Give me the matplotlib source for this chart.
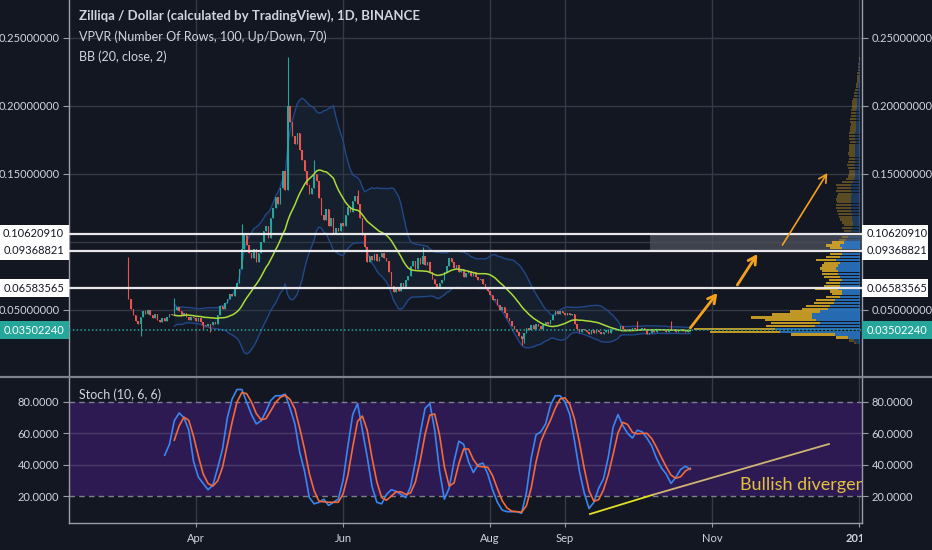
import numpy as np
import pandas as pd
import matplotlib
matplotlib.use('Agg')
import matplotlib.pyplot as plt
from matplotlib.patches import Rectangle
from matplotlib.lines import Line2D
from matplotlib.transforms import Bbox

plt.rcParams['font.family'] = ['Lato', 'DejaVu Sans']

# ------------------------------------------------------------------ data
# day index: 0 = 1 Jan 2018
first_day = 62
first_open = 0.078
closes = [
    0.058, 0.051, 0.046, 0.042, 0.040, 0.045, 0.049, 0.047, 0.050, 0.046,
    0.044, 0.047, 0.043, 0.041, 0.044, 0.042, 0.045, 0.047, 0.046, 0.050,
    0.052, 0.049, 0.046, 0.048, 0.045, 0.043, 0.045, 0.044, 0.042, 0.044,
    0.041, 0.039, 0.038, 0.040, 0.039, 0.041, 0.040, 0.046, 0.053, 0.051,
    0.055, 0.058, 0.062, 0.060, 0.066, 0.070, 0.080, 0.095, 0.105, 0.098,
    0.092, 0.088, 0.095, 0.085, 0.092, 0.100, 0.108, 0.112, 0.103, 0.118,
    0.125, 0.133, 0.128, 0.140, 0.152, 0.138, 0.200, 0.188, 0.178, 0.172,
    0.180, 0.168, 0.160, 0.152, 0.142, 0.135, 0.140, 0.150, 0.145, 0.132,
    0.120, 0.116, 0.124, 0.112, 0.118, 0.106, 0.110, 0.108, 0.114, 0.112,
    0.120, 0.126, 0.122, 0.130, 0.134, 0.128, 0.118, 0.105, 0.096, 0.085,
    0.090, 0.087, 0.091, 0.086, 0.089, 0.092, 0.088, 0.086, 0.078, 0.068,
    0.063, 0.067, 0.064, 0.070, 0.066, 0.072, 0.075, 0.082, 0.086, 0.080,
    0.088, 0.084, 0.090, 0.083, 0.085, 0.078, 0.073, 0.069, 0.066, 0.070,
    0.072, 0.078, 0.082, 0.088, 0.085, 0.081, 0.083, 0.078, 0.080, 0.074,
    0.077, 0.079, 0.075, 0.078, 0.074, 0.072, 0.073, 0.069, 0.066, 0.064,
    0.061, 0.057, 0.058, 0.054, 0.050, 0.052, 0.048, 0.044, 0.042, 0.038,
    0.036, 0.034, 0.031, 0.029, 0.033, 0.037, 0.035, 0.039, 0.036, 0.040,
    0.038, 0.036, 0.039, 0.041, 0.040, 0.043, 0.046, 0.049, 0.047, 0.049,
    0.048, 0.046, 0.048, 0.046, 0.047, 0.040, 0.036, 0.034, 0.036, 0.035,
    0.034, 0.032, 0.035, 0.033, 0.035, 0.034, 0.032, 0.034, 0.035, 0.033,
    0.036, 0.037, 0.035, 0.036, 0.038, 0.036, 0.035, 0.036, 0.035, 0.037,
    0.036, 0.035, 0.036, 0.037, 0.036, 0.032, 0.033, 0.035, 0.034, 0.036,
    0.035, 0.036, 0.035, 0.034, 0.036, 0.035, 0.036, 0.034, 0.035, 0.036,
    0.035, 0.034, 0.035, 0.035,
]
high_spikes = {0: 0.089, 19: 0.059, 47: 0.113, 66: 0.236, 77: 0.160,
               95: 0.138, 122: 0.096, 211: 0.042, 225: 0.042}
low_spikes = {5: 0.031, 31: 0.036, 34: 0.034, 163: 0.0245, 164: 0.026}

# Stochastic %K (10, 6, 6), sampled every 2 days from day 77
stoch_first_day = 77
stoch_k = [
    46, 53, 68, 73, 70, 62, 42, 32, 28, 24,
    27, 38, 50, 70, 82, 88, 88, 80, 72, 66,
    68, 74, 81, 84, 84, 85, 76, 66, 48, 36,
    19, 15, 16, 18, 14, 16, 18, 30, 52, 72,
    79, 62, 45, 26, 16, 15, 21, 24, 23, 21,
    19, 26, 42, 60, 76, 79, 62, 36, 18, 25,
    42, 55, 53, 42, 35, 40, 41, 34, 24, 16,
    11, 10, 10, 10, 9, 22, 44, 59, 61, 66,
    78, 84, 84, 80, 72, 55, 36, 22, 12, 16,
    25, 31, 45, 64, 72, 65, 60, 57, 62, 61,
    57, 52, 44, 38, 34, 28, 32, 37, 39, 37,
]

# Volume profile (100 rows, bottom -> top): up and total volume
vp_total = [
    6, 11, 24, 69, 150, 166, 94, 89, 95, 109,
    88, 70, 58, 54, 46, 44, 34, 28, 30, 45,
    36, 34, 31, 36, 38, 38, 40, 38, 36, 44,
    34, 30, 42, 30, 34, 28, 21, 18, 11, 16,
    18, 16, 18, 20, 21, 22, 23, 24, 24, 23,
    24, 23, 22, 24, 23, 24, 18, 14, 12, 11,
    11, 12, 13, 12, 11, 11, 12, 11, 11, 11,
    10, 11, 11, 11, 10, 10, 9, 10, 10, 9,
    9, 9, 8, 8, 8, 7, 6, 6, 5, 4,
    4, 3, 3, 3, 3, 2, 2, 2, 1, 1,
]
vp_up = [
    4, 6, 12, 25, 80, 85, 45, 40, 44, 48,
    48, 40, 32, 30, 26, 25, 20, 18, 18, 22,
    20, 20, 18, 20, 22, 22, 24, 22, 20, 24,
    20, 18, 22, 18, 20, 16, 14, 12, 8, 9,
    8, 7, 7, 8, 8, 8, 9, 9, 9, 9,
    9, 9, 8, 9, 9, 9, 7, 6, 5, 5,
    5, 5, 6, 5, 5, 5, 5, 5, 5, 5,
    4, 5, 5, 5, 4, 4, 4, 4, 4, 4,
    4, 4, 3, 3, 3, 3, 3, 3, 2, 2,
    2, 1, 1, 1, 1, 1, 1, 1, 1, 0,
]

levels = [0.10620910, 0.09368821, 0.06583565]
level_labels = ['0.10620910', '0.09368821', '0.06583565']
last_price = 0.03502240
last_label = '0.03502240'
zone_start_day = 278.4
zone_prices = [0.09368821, 0.10620910]

# drawn arrows: (start day, start price, end day, end price)
arrows = [(295.0, 0.0368, 306.2, 0.0625),
          (314.5, 0.0684, 322.8, 0.0912),
          (333.2, 0.0978, 351.8, 0.1507)]
arrow_widths = [2.0, 2.0, 1.2]

div_days = [253.4, 279.5, 352.5]
div_vals = [8.5, 20.8, 53.2]
div_text = 'Bullish divergence'
div_text_pos = (315.6, 27.0)

month_days = [90, 151, 212, 243, 304, 365]
month_labels = ['Apr', 'Jun', 'Aug', 'Sep', 'Nov', '2019']
price_ticks = [0.05, 0.10, 0.15, 0.20, 0.25]
price_tick_labels = ['0.05000000', '', '0.15000000', '0.20000000', '0.25000000']
stoch_ticks = [20, 40, 60, 80]
stoch_tick_labels = ['20.0000', '40.0000', '60.0000', '80.0000']

title_lines = ['Zilliqa / Dollar (calculated by TradingView), 1D, BINANCE',
               'VPVR (Number Of Rows, 100, Up/Down, 70)',
               'BB (20, close, 2)']
stoch_title = 'Stoch (10, 6, 6)'

# ------------------------------------------------------------------ derived
closes = np.array(closes)
n = len(closes)
days = first_day + np.arange(n)
opens = np.concatenate([[first_open], closes[:-1]])
highs = np.maximum(opens, closes).copy()
lows = np.minimum(opens, closes).copy()
for kk, v in high_spikes.items():
    highs[kk] = v
for kk, v in low_spikes.items():
    lows[kk] = v

s = pd.Series(closes)
basis = s.rolling(20).mean()
dev = s.rolling(20).std(ddof=0)
upper = basis + 2 * dev
lower = basis - 2 * dev

k = pd.Series(stoch_k, dtype=float)
d = k.rolling(3).mean()
sdays = stoch_first_day + 2 * np.arange(len(k))

# ------------------------------------------------------------------ style
BG = '#131722'
GRID = '#363a46'
SPINE = '#9a9da6'
TXT = '#d1d4dc'
UP = '#26a69a'
DN = '#ef5350'
W, H = 932, 550
TICK_FS = 8.0

XL = (37.33, 366.2)
YL = (0.10 - (376 - 242) / 1360, 0.10 + 242 / 1360)
SL = (80 - (523 - 402) / 1.567, 80 + (402 - 377) / 1.567)

fig = plt.figure(figsize=(W / 100, H / 100), dpi=100, facecolor=BG)
ax = fig.add_axes([69 / W, 1 - 376 / H, (862 - 69) / W, 376 / H])
ax2 = fig.add_axes([69 / W, 1 - 523 / H, (862 - 69) / W, (523 - 377) / H])

for a in (ax, ax2):
    a.set_facecolor(BG)
    a.set_xlim(*XL)
    for sp in a.spines.values():
        sp.set_color(SPINE)
        sp.set_linewidth(1.0)
    a.spines['top'].set_visible(False)
    a.tick_params(axis='y', which='both', left=True, right=True,
                  labelleft=True, labelright=True, colors=SPINE,
                  labelcolor=TXT, labelsize=TICK_FS, length=4, width=0.8, pad=3)
    a.set_xticks(month_days)
    for md in month_days:
        a.axvline(md, color=GRID, lw=1, zorder=0)

ax.spines['bottom'].set_visible(False)
ax.set_ylim(*YL)
ax.set_yticks(price_ticks)
ax.set_yticklabels(price_tick_labels)
ax.tick_params(axis='x', bottom=False, labelbottom=False)
for p in price_ticks:
    ax.axhline(p, color=GRID, lw=1, zorder=0)

# Bollinger bands
ax.fill_between(days, lower, upper, color='#1d3448', alpha=0.3, lw=0, zorder=1)
ax.plot(days, upper, color='#21488a', lw=1.0, zorder=2)
ax.plot(days, lower, color='#21488a', lw=1.0, zorder=2)

# candles
col = np.where(closes >= opens, UP, DN)
ax.vlines(days, lows, highs, colors=col, lw=0.8, zorder=3)
body_h = np.maximum(np.abs(closes - opens), 0.0004)
ax.bar(days, body_h, bottom=np.minimum(opens, closes), width=0.62,
       color=col, lw=0, zorder=3)
ax.plot(days, basis, color='#a9dc3a', lw=1.1, zorder=4)

# zone rectangle
ax.fill_between([zone_start_day, XL[1]], zone_prices[0], zone_prices[1],
                color='#4d515c', alpha=0.75, lw=0, zorder=2)

# volume profile
vp_total = np.array(vp_total, float)
vp_up = np.array(vp_up, float)
vp_dn = vp_total - vp_up
lo, hi = lows.min(), highs.max()
rows = len(vp_total)
rh = (hi - lo) / rows
centers = lo + (np.arange(rows) + 0.5) * rh
scale = 69.0 / vp_total.max()
poc = int(np.argmax(vp_total))
a_i, b_i, acc = poc, poc, vp_total[poc]
while acc < 0.7 * vp_total.sum():
    below = vp_total[a_i - 1] if a_i > 0 else -1
    above = vp_total[b_i + 1] if b_i < rows - 1 else -1
    if above >= below:
        b_i += 1
        acc += vp_total[b_i]
    else:
        a_i -= 1
        acc += vp_total[a_i]
in_va = (np.arange(rows) >= a_i) & (np.arange(rows) <= b_i)
right = XL[1] - 0.8
for i in range(rows):
    al = 0.85 if in_va[i] else 0.35
    ax.barh(centers[i], vp_up[i] * scale, left=right - vp_up[i] * scale,
            height=rh * 0.8, color='#2a7bcc', alpha=al, lw=0, zorder=2.5)
    ax.barh(centers[i], vp_dn[i] * scale,
            left=right - vp_total[i] * scale, height=rh * 0.8,
            color='#e0ad26', alpha=al, lw=0, zorder=2.5)

# horizontal levels
for lv in levels:
    ax.axhline(lv, color='#e8e8ea', lw=1.6, zorder=5)
ax.axhline(last_price, color=UP, lw=1.1, ls=(0, (1, 1.5)), zorder=5)

# arrows
for (x0, y0, x1, y1), lw in zip(arrows, arrow_widths):
    ax.annotate('', xy=(x1, y1), xytext=(x0, y0),
                arrowprops=dict(arrowstyle='->,head_length=0.55,head_width=0.3',
                                color='#f4a21e', lw=lw, shrinkA=0, shrinkB=0),
                zorder=6)

# ---------------- stochastic panel
ax2.set_ylim(*SL)
ax2.set_yticks(stoch_ticks)
ax2.set_yticklabels(stoch_tick_labels)
ax2.axhspan(20, 80, color='#2e1a52', lw=0, zorder=0.5)
for v in (40, 60):
    ax2.axhline(v, color='#4a3a6c', lw=1, zorder=0.6)
for v in (20, 80):
    ax2.axhline(v, color='#7d7f8c', lw=1, ls=(0, (4, 3)), zorder=0.7)
ax2.plot(sdays, k, color='#3a86f0', lw=1.2, zorder=3)
ax2.plot(sdays, d, color='#f26a3c', lw=1.2, zorder=3)
ax2.plot(div_days[:2], div_vals[:2], color='#e3e02a', lw=1.3, zorder=4)
ax2.plot(div_days[1:], div_vals[1:], color='#cfb474', lw=1.3, zorder=4)
dt = ax2.text(div_text_pos[0], div_text_pos[1], div_text, color='#e2c23e',
              fontsize=13, va='center', ha='left', zorder=5)
dt.set_clip_box(ax2.bbox)
dt.set_clip_on(True)
ax2.set_xticklabels(month_labels[:-1] + [''])
ax2.tick_params(axis='x', colors=SPINE, labelcolor=TXT, labelsize=TICK_FS,
                length=3, pad=4)
t = fig.text(859 / W, 1 - 538 / H, month_labels[-1], ha='center', va='center',
             color=TXT, fontsize=TICK_FS, fontweight='bold')
t.set_clip_box(Bbox([[0, 0], [862, 550]]))

# separator line
fig.add_artist(Line2D([0, 1], [1 - 376.5 / H] * 2, transform=fig.transFigure,
                      color='#80838c', lw=1.6))


# price label boxes
def box(yc, label, face, txtc):
    for x0, x1, ha, tx in ((0, 69, 'right', 64),
                           (862, 928 if face != UP else 932, 'left', 867)):
        fig.add_artist(Rectangle((x0 / W, 1 - (yc + 9) / H), (x1 - x0) / W, 18 / H,
                                 transform=fig.transFigure, color=face, lw=0,
                                 zorder=10))
        fig.text(tx / W, 1 - yc / H, label, ha=ha, va='center', color=txtc,
                 fontsize=TICK_FS, zorder=11)


def ypix(p):
    return 242 - (p - 0.10) * 1360


for lv, lb in zip(levels, level_labels):
    box(ypix(lv), lb, '#ffffff', '#131722')
box(ypix(last_price), last_label, UP, '#ffffff')

# titles
fig.text(79 / W, 1 - 16 / H, title_lines[0], color=TXT, fontsize=9.5,
         fontweight='bold', va='center')
fig.text(79 / W, 1 - 37 / H, title_lines[1], color=TXT, fontsize=9, va='center')
fig.text(79 / W, 1 - 57 / H, title_lines[2], color=TXT, fontsize=9, va='center')
fig.text(79 / W, 1 - 395 / H, stoch_title, color=TXT, fontsize=9, va='center')

fig.savefig('out.png', dpi=100, facecolor=BG)
